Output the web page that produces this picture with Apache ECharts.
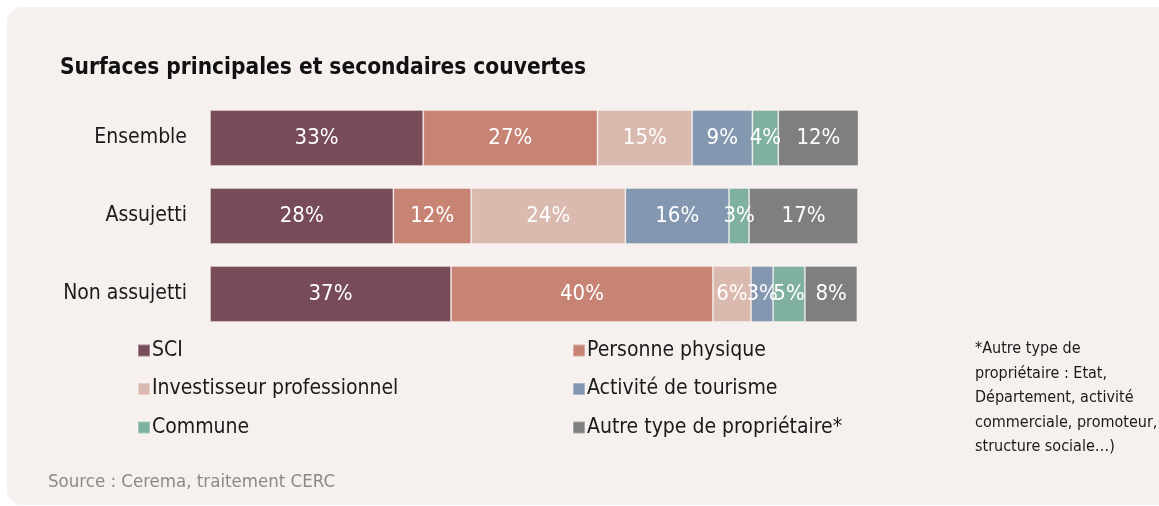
<!DOCTYPE html>
<html>
<head>
<meta charset="utf-8">
<script src="https://cdn.jsdelivr.net/npm/echarts@6/dist/echarts.min.js"></script>
<style>
  html, body { margin: 0; padding: 0; background: #ffffff; }
  #chart { width: 1159px; height: 506px; }
</style>
</head>
<body>
<div id="chart"></div>
<script>
// rows (top to bottom)
const categories = ['Ensemble', 'Assujetti', 'Non assujetti']

// shares in %, one array per owner type
const sci = [32.9, 28.3, 37.2]
const personnePhysique = [26.9, 12.0, 40.4]
const investisseurPro = [14.6, 23.8, 5.9]
const tourisme = [9.3, 16.0, 3.4]
const commune = [4.0, 3.1, 4.9]
const autre = [12.4, 16.8, 8.1]

const seriesNames = ['SCI', 'Personne physique', 'Investisseur professionnel', 'Activité de tourisme', 'Commune', 'Autre type de propriétaire*']
const seriesValues = [sci, personnePhysique, investisseurPro, tourisme, commune, autre]
const colors = ['#784b58', '#c78474', '#dab9ae', '#8497b0', '#7fb0a0', '#7f7f7f']

const footnote = ['*Autre type de', 'propriétaire : Etat,', 'Département, activité', 'commerciale, promoteur,', 'structure sociale…)']

const FONT = "'Liberation Sans Narrow', 'DejaVu Sans Condensed', 'Roboto', sans-serif"

const chart = echarts.init(document.getElementById('chart'))

const legendStyle = {
  orient: 'vertical', top: 335,
  icon: 'rect', itemWidth: 12, itemHeight: 12, itemGap: 17.5,
  textStyle: { fontFamily: FONT, fontSize: 21, lineHeight: 21, color: '#1a1a1a', padding: [0, 0, 0, -3] }
}

chart.setOption({
  backgroundColor: '#ffffff',
  textStyle: { fontFamily: FONT },
  graphic: [
    {
      type: 'rect', z: -10, silent: true,
      shape: { x: 7, y: 7, width: 1220, height: 498, r: 15 },
      style: { fill: '#f6f0ee' }
    },
    {
      type: 'text', left: 975, top: 337,
      style: { text: footnote.join('\n'), font: '16px ' + FONT, fill: '#1a1a1a', lineHeight: 24.5 }
    },
    {
      type: 'text', left: 48, top: 473,
      style: { text: 'Source : Cerema, traitement CERC', font: '18.5px ' + FONT, fill: '#8a8a8a' }
    }
  ],
  title: {
    text: 'Surfaces principales et secondaires couvertes',
    left: 60, top: 57, padding: 0,
    textStyle: { fontFamily: FONT, fontSize: 22.5, fontWeight: 'bold', color: '#111' }
  },
  legend: [
    Object.assign({ data: [seriesNames[0], seriesNames[2], seriesNames[4]], left: 132 }, legendStyle),
    Object.assign({ data: [seriesNames[1], seriesNames[3], seriesNames[5]], left: 567 }, legendStyle)
  ],
  grid: { left: 210, right: 301, top: 99, bottom: 173 },
  xAxis: {
    type: 'value', min: 0, max: 100,
    show: false
  },
  yAxis: {
    type: 'category',
    data: categories,
    inverse: true,
    axisLine: { show: false },
    axisTick: { show: false },
    axisLabel: { fontFamily: FONT, fontSize: 21, color: '#1a1a1a', margin: 23 }
  },
  series: seriesNames.map((name, i) => ({
    name,
    type: 'bar',
    stack: 'total',
    barWidth: 56,
    data: seriesValues[i],
    itemStyle: { color: colors[i], borderColor: 'rgba(255,255,255,0.3)', borderWidth: 1 },
    label: {
      show: true,
      position: 'inside',
      color: '#ffffff',
      fontFamily: FONT,
      fontSize: 22,
      formatter: p => Math.round(p.value) + '%'
    }
  }))
})
</script>
</body>
</html>
